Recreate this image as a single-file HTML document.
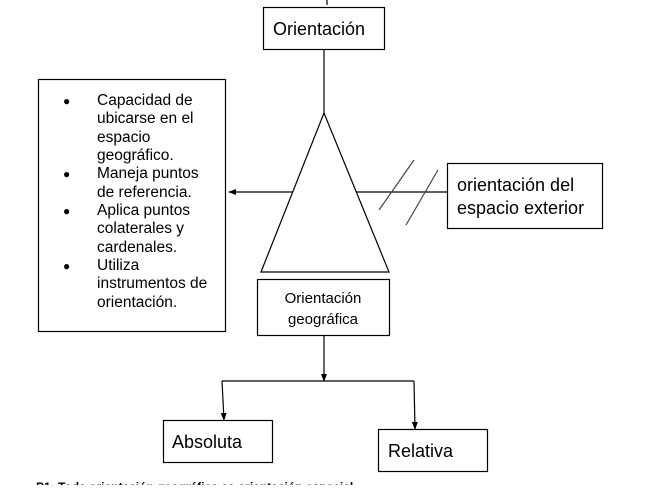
<!DOCTYPE html>
<html><head><meta charset="utf-8"><style>
body{margin:0;background:#fff;width:651px;height:485px;overflow:hidden}
svg text{font-family:"Liberation Sans",sans-serif;fill:#000}
</style></head><body>
<svg width="651" height="485" viewBox="0 0 651 485" xmlns="http://www.w3.org/2000/svg">
<defs><marker id="a" markerWidth="8" markerHeight="6" refX="7" refY="3" orient="auto" markerUnits="userSpaceOnUse"><path d="M0,0 L8,3 L0,6z" fill="#000"/></marker></defs>
<g stroke="#000" stroke-width="1.2" fill="none">
<line x1="327" y1="0" x2="327" y2="5"/>
<rect x="263.5" y="7.5" width="121" height="42" fill="#fff"/>
<line x1="324" y1="49" x2="324" y2="113"/>
<line x1="448" y1="192" x2="229" y2="192" marker-end="url(#a)"/>
<polygon points="324,113 261,272 389,272" fill="#fff"/>
<line x1="379" y1="210" x2="414" y2="160" stroke="#444"/>
<line x1="406" y1="225" x2="438" y2="170" stroke="#444"/>
<rect x="447.5" y="163.5" width="155" height="65" fill="#fff"/>
<rect x="38.5" y="79.5" width="187" height="252" fill="#fff"/>
<rect x="257.5" y="279.5" width="132" height="56" fill="#fff"/>
<line x1="324" y1="336" x2="324" y2="381" marker-end="url(#a)"/>
<line x1="222" y1="381" x2="414" y2="381"/>
<line x1="222" y1="381" x2="224" y2="420" marker-end="url(#a)"/>
<line x1="414" y1="381" x2="415" y2="429" marker-end="url(#a)"/>
<rect x="163.5" y="420.5" width="109" height="42" fill="#fff"/>
<rect x="378.5" y="429.5" width="109" height="42" fill="#fff"/>
</g>
<text x="273" y="35" font-size="18">Orientación</text>
<text x="457" y="191" font-size="18">orientación del</text>
<text x="457" y="214" font-size="18">espacio exterior</text>
<text x="323" y="303" font-size="15" text-anchor="middle">Orientación</text>
<text x="323" y="324" font-size="15" text-anchor="middle">geográfica</text>
<text x="172" y="448" font-size="18">Absoluta</text>
<text x="388" y="457" font-size="18">Relativa</text>
<g font-size="15.5">
<text x="63" y="105" font-size="12">●</text><text x="97" y="105">Capacidad de</text>
<text x="97" y="123">ubicarse en el</text>
<text x="97" y="142">espacio</text>
<text x="97" y="160">geográfico.</text>
<text x="63" y="178" font-size="12">●</text><text x="97" y="178">Maneja puntos</text>
<text x="97" y="197">de referencia.</text>
<text x="63" y="215" font-size="12">●</text><text x="97" y="215">Aplica puntos</text>
<text x="97" y="233">colaterales y</text>
<text x="97" y="252">cardenales.</text>
<text x="63" y="270" font-size="12">●</text><text x="97" y="270">Utiliza</text>
<text x="97" y="288">instrumentos de</text>
<text x="97" y="307">orientación.</text>
</g>
<text x="36" y="491" font-size="12" font-weight="bold">P1: Toda orientación geográfica es orientación espacial</text>
</svg>
</body></html>
